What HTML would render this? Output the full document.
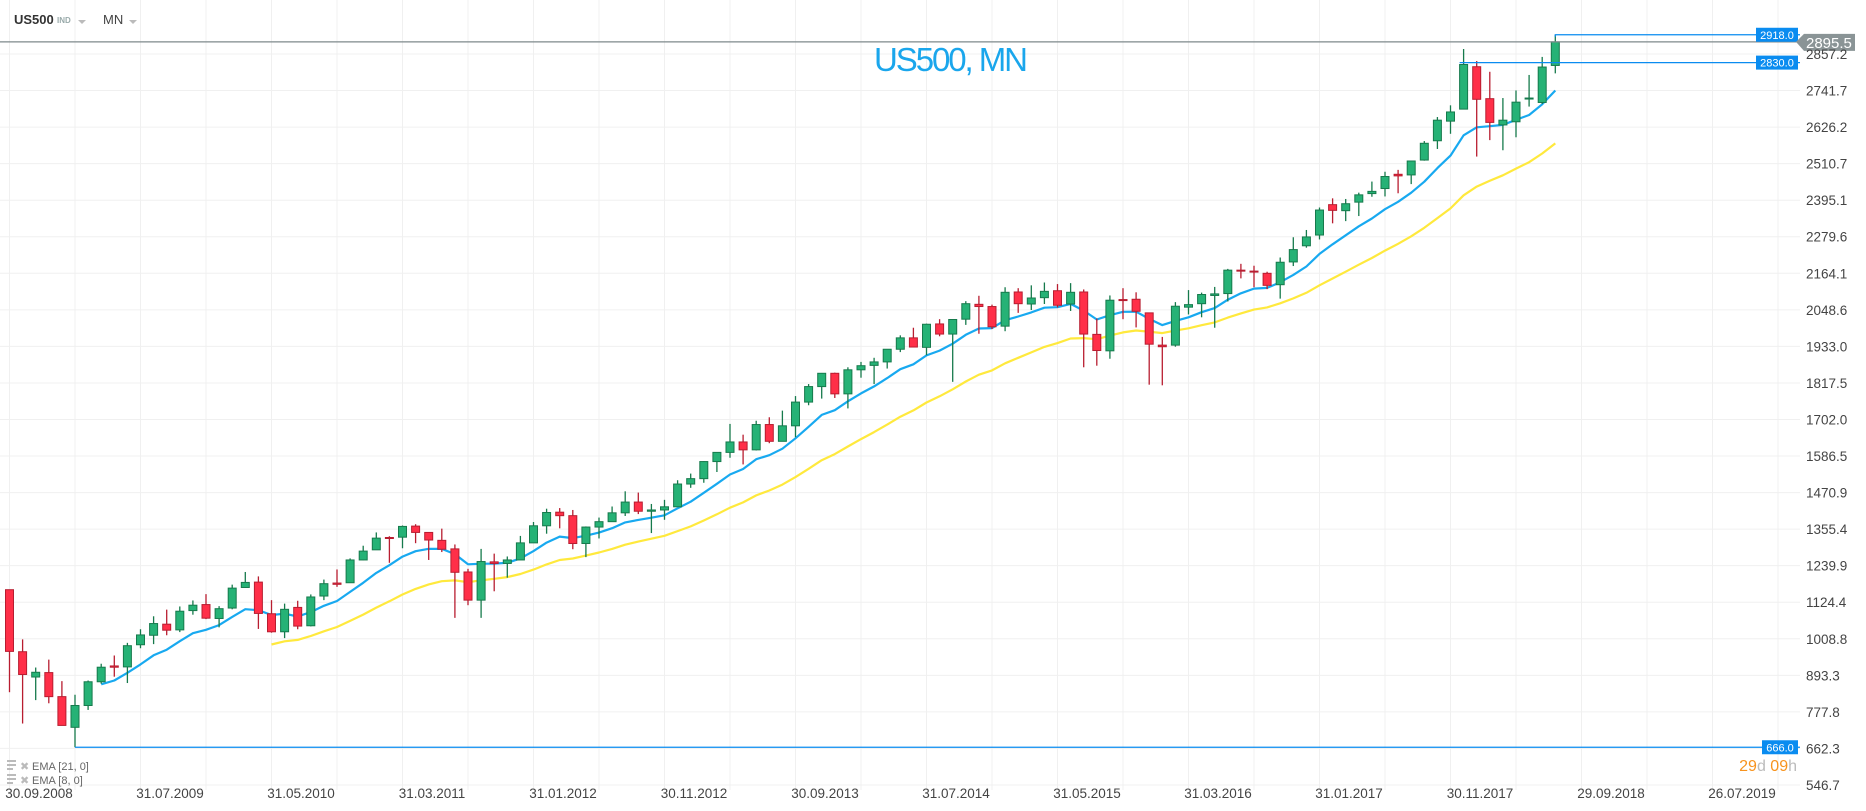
<!DOCTYPE html>
<html><head><meta charset="utf-8"><style>
html,body{margin:0;padding:0;background:#fff;}
svg{display:block;font-family:"Liberation Sans",sans-serif;}
</style></head><body>
<svg id="chart" width="1866" height="811" viewBox="0 0 1866 811">
  <g id="grid"></g>
  <g id="header">
    <text x="14" y="24" font-size="13" font-weight="bold" fill="#333">US500</text>
    <text x="57" y="23" font-size="8" font-weight="bold" fill="#9aa">IND</text>
    <path d="M78 20 L86 20 L82 24 Z" fill="#bbb"/>
    <text x="103" y="24" font-size="13" fill="#444">MN</text>
    <path d="M129 20 L137 20 L133 24 Z" fill="#bbb"/>
  </g>
  <text x="874" y="71" font-size="33" fill="#1aa6ec" textLength="154">US500, MN</text>
  <g id="ema21"></g>
  <g id="ema8"></g>
  <g id="candles"></g>
  <g id="levels"></g>
  <g id="yaxis"></g>
  <g id="xaxis"></g>
  <g>
    <g>
      <rect x="7" y="760" width="9" height="2" fill="#bbb"/><rect x="7" y="764" width="9" height="2" fill="#bbb"/><rect x="7" y="768" width="6" height="2" fill="#bbb"/>
      <text x="20" y="770" font-size="11" fill="#bbb">✖</text>
      <text x="32" y="770" font-size="11" fill="#666">EMA  [21, 0]</text>
    </g>
    <g>
      <rect x="7" y="774" width="9" height="2" fill="#bbb"/><rect x="7" y="778" width="9" height="2" fill="#bbb"/><rect x="7" y="782" width="6" height="2" fill="#bbb"/>
      <text x="20" y="784" font-size="11" fill="#bbb">✖</text>
      <text x="32" y="784" font-size="11" fill="#666">EMA  [8, 0]</text>
    </g>
  </g>
  <text x="1797" y="771" font-size="16" text-anchor="end"><tspan fill="#f7931e">29</tspan><tspan fill="#bbb">d </tspan><tspan fill="#f7931e">09</tspan><tspan fill="#bbb">h</tspan></text>
</svg>
<script>
const opens=[1164,968,888,902,826,729,798,873,923,920,990,1020,1055,1037,1098,1117,1073,1106,1171,1188,1088,1031,1108,1050,1144,1185,1186,1258,1290,1329,1330,1365,1345,1320,1293,1220,1131,1252,1247,1258,1312,1366,1409,1398,1310,1362,1379,1407,1441,1412,1416,1426,1498,1515,1569,1598,1631,1606,1686,1633,1682,1757,1806,1848,1783,1859,1873,1884,1924,1960,1930,2004,1972,2019,2066,2059,1997,2105,2067,2087,2109,2067,2105,1971,1919,2081,2082,2039,1937,1937,2057,2068,2094,2100,2174,2171,2164,2128,2200,2251,2285,2381,2362,2389,2416,2432,2477,2475,2522,2583,2645,2683,2817,2716,2633,2643,2718,2704,2821];
const highs=[1164,1007,918,943,875,832,877,930,956,996,1039,1080,1101,1111,1130,1150,1112,1180,1220,1206,1131,1120,1129,1149,1196,1228,1263,1303,1345,1333,1367,1371,1345,1357,1307,1230,1293,1278,1269,1334,1378,1420,1422,1416,1364,1392,1427,1475,1471,1435,1448,1510,1531,1570,1598,1688,1654,1698,1709,1730,1776,1814,1849,1850,1867,1884,1897,1924,1968,1992,2005,2019,2019,2076,2093,2065,2120,2117,2126,2135,2130,2133,2113,2021,2094,2117,2104,2039,1963,2073,2111,2103,2121,2178,2194,2188,2169,2214,2278,2301,2372,2401,2399,2419,2454,2485,2491,2520,2582,2658,2695,2873,2835,2801,2718,2742,2791,2848,2918];
const lows=[840,741,815,805,735,666,784,867,889,869,979,992,1020,1030,1085,1071,1045,1102,1170,1040,1028,1011,1039,1048,1131,1173,1186,1257,1290,1249,1295,1311,1258,1283,1075,1115,1075,1159,1202,1258,1312,1341,1358,1292,1267,1326,1379,1397,1403,1343,1385,1426,1486,1502,1536,1581,1560,1604,1627,1633,1646,1747,1768,1770,1737,1834,1814,1863,1915,1930,1905,1965,1821,2001,1973,1988,1981,2039,2048,2067,2056,2045,1867,1872,1894,2019,1993,1812,1810,1932,2034,2025,1992,2075,2148,2120,2114,2084,2187,2245,2271,2322,2329,2345,2406,2407,2417,2446,2520,2557,2605,2683,2533,2585,2553,2594,2691,2699,2796];
const closes=[969,896,903,826,735,798,873,919,919,987,1021,1057,1036,1096,1115,1074,1104,1169,1187,1089,1031,1102,1049,1141,1183,1181,1258,1286,1327,1326,1364,1345,1321,1292,1219,1131,1253,1247,1258,1312,1366,1408,1398,1310,1362,1379,1407,1441,1412,1416,1426,1498,1515,1569,1598,1631,1606,1686,1633,1682,1757,1806,1848,1783,1859,1872,1884,1924,1960,1931,2003,1972,2018,2068,2059,1995,2104,2068,2086,2107,2063,2104,1972,1920,2079,2080,2044,1940,1932,2060,2065,2097,2099,2174,2171,2168,2126,2199,2239,2279,2364,2363,2384,2412,2423,2470,2472,2519,2575,2648,2674,2824,2714,2641,2648,2705,2718,2816,2895.5];
const yTicks=[2857.2,2741.7,2626.2,2510.7,2395.1,2279.6,2164.1,2048.6,1933.0,1817.5,1702.0,1586.5,1470.9,1355.4,1239.9,1124.4,1008.8,893.3,777.8,662.3,546.7];
const xLabels=["30.09.2008","31.07.2009","31.05.2010","31.03.2011","31.01.2012","30.11.2012","30.09.2013","31.07.2014","31.05.2015","31.03.2016","31.01.2017","30.11.2017","29.09.2018","26.07.2019"];
const levelValues=[2918.0,2830.0,666.0];
const lastPrice=2895.5;

const NS="http://www.w3.org/2000/svg";
const X0=9.5, STEP=13.1, PR=1800;
const xs=i=>X0+i*STEP;
const yTop=54, yBot=785, pTop=2857.2, pBot=546.7;
const ys=p=>yTop+(pTop-p)*(yBot-yTop)/(pTop-pBot);
function mk(tag,attrs,parent){const e=document.createElementNS(NS,tag);for(const k in attrs)e.setAttribute(k,attrs[k]);parent.appendChild(e);return e;}

// grid
const grid=document.getElementById('grid');
for(let i=0;xs(i)<PR;i+=5){
  const l=mk('line',{x1:xs(i),x2:xs(i),y1:0,y2:790,stroke:'#f0f0f0','stroke-width':1},grid);
  
  
}
const yax=document.getElementById('yaxis');
yTicks.forEach(v=>{
  const y=ys(v);
  const l=mk('line',{x1:0,x2:PR,y1:y,y2:y,stroke:'#f0f0f0','stroke-width':1},grid);
  
  
  const t=mk('text',{x:1806,y:y+5,'font-size':13.5,fill:'#444'},yax);
  t.textContent=v.toFixed(1);
  
  
});
const xax=document.getElementById('xaxis');
xLabels.forEach((s,k)=>{
  const t=mk('text',{x:xs(k*10)+29.5,y:798,'font-size':13.5,fill:'#444','text-anchor':'middle'},xax);
  t.textContent=s;
  
  
});

// EMA
function ema(n){const out=[];let e=null;for(let i=0;i<closes.length;i++){if(i<n-1){out.push(null);continue;}if(e===null){let s=0;for(let j=i-n+1;j<=i;j++)s+=closes[j];e=s/n;}else e=closes[i]*2/(n+1)+e*(1-2/(n+1));out.push(e);}return out;}
function drawLine(id,vals,color,name){
  let d='';vals.forEach((v,i)=>{if(v===null)return;d+=(d?'L':'M')+xs(i).toFixed(1)+' '+ys(v).toFixed(1);});
  const p=mk('path',{d:d,fill:'none',stroke:color,'stroke-width':2.2,'stroke-linejoin':'round'},document.getElementById(id));
  
  
}
drawLine('ema21',ema(21),'#ffe93d','ema-21-path');
drawLine('ema8',ema(8),'#18a9f0','ema-8-path');

// candles
const cg=document.getElementById('candles');
closes.forEach((c,i)=>{
  const o=opens[i],up=c>=o;
  const fill=up?'#26b276':'#ff2f48',st=up?'#167a4c':'#b81d30';
  const g=mk('g',{},cg);
  
  
  const x=xs(i);
  mk('line',{x1:x,x2:x,y1:ys(highs[i]),y2:ys(lows[i]),stroke:st,'stroke-width':1.3},g);
  const yt=ys(Math.max(o,c)),yb=ys(Math.min(o,c));
  mk('rect',{x:x-4,y:yt,width:8,height:Math.max(1,yb-yt),fill:fill,stroke:st,'stroke-width':1},g);
});

// price levels
const lv=document.getElementById('levels');
const lastX=xs(closes.length-1);
const gl=mk('line',{x1:0,x2:PR,y1:ys(lastPrice),y2:ys(lastPrice),stroke:'#7f8a8c','stroke-width':1.2},lv);


const hiY=ys(levelValues[0]);
const p1=mk('path',{d:`M${lastX} ${ys(highs[highs.length-1])+2} L${lastX} ${hiY} L${PR} ${hiY}`,fill:'none',stroke:'#0a8cf0','stroke-width':1.2},lv);


const midY=ys(levelValues[1]);
const p2=mk('line',{x1:xs(closes.length-8)-4,x2:PR,y1:midY,y2:midY,stroke:'#0a8cf0','stroke-width':1.2},lv);


const lowY=ys(levelValues[2]);
const p3=mk('line',{x1:xs(5),x2:PR,y1:lowY,y2:lowY,stroke:'#0a8cf0','stroke-width':1.2},lv);


levelValues.forEach(v=>{
  const y=ys(v);
  const w=v>=1000?42:36;
  const r=mk('rect',{x:1798-w,y:y-7,width:w,height:14,fill:'#0a8cf0'},lv);
  
  
  const t=mk('text',{x:1798-w/2,y:y+4,'font-size':11,fill:'#fff','text-anchor':'middle'},lv);
  t.textContent=v.toFixed(1);
  
  
});
const ly=ys(lastPrice);
const tag=mk('path',{d:`M1796 ${ly} L1804 ${ly-8} L1855 ${ly-8} L1855 ${ly+9} L1804 ${ly+9} Z`,fill:'#8a9496'},lv);


const lt=mk('text',{x:1806,y:ly+6,'font-size':15,fill:'#fff'},lv);
lt.textContent=lastPrice.toFixed(1);


</script>
</body></html>
